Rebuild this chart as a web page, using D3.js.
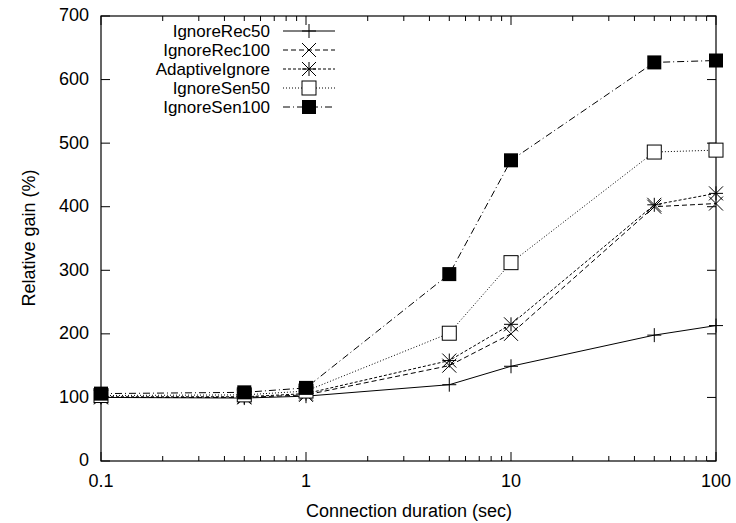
<!DOCTYPE html>
<html><head><meta charset="utf-8">
<script src="https://cdn.jsdelivr.net/npm/d3@7"></script>
<style>body{margin:0;background:#fff}svg{display:block}text{font-family:"Liberation Sans",Arial,sans-serif;fill:#000}</style>
</head><body><svg id="c" width="736" height="523"></svg>
<script>
const durations = [0.1, 0.5, 1, 5, 10, 50, 100];
const seriesNames = ["IgnoreRec50","IgnoreRec100","AdaptiveIgnore","IgnoreSen50","IgnoreSen100"];
const ignoreRec50   = [100, 99, 102, 120, 149, 198, 213];
const ignoreRec100  = [100, 100, 104, 150, 200, 400, 405];
const adaptiveIgnore= [101, 101, 106, 158, 215, 403, 421];
const ignoreSen50   = [103, 104, 110, 201, 312, 486, 489];
const ignoreSen100  = [106, 108, 115, 294, 473, 627, 630];
const yTicks = [0,100,200,300,400,500,600,700];
const xTicks = [0.1, 1, 10, 100];
const xLabel = "Connection duration (sec)";
const yLabel = "Relative gain (%)";

const values = [ignoreRec50, ignoreRec100, adaptiveIgnore, ignoreSen50, ignoreSen100];
const dashes = [null, "5,3", "3,2", "1,2", "7,3,1,3"];
const markers = ["plus","cross","star","square","filled"];

const svg = d3.select("#c");
const L=101,R=716,T=16,B=461;
const x = d3.scaleLog().domain([0.1,100]).range([L,R]);
const y = d3.scaleLinear().domain([0,700]).range([B,T]);

const g = svg.append("g");
const minor = [];
for (let d=0.1; d<100; d*=10) for (let k=2;k<=9;k++) minor.push(+(d*k).toPrecision(3));
g.selectAll(".mnb").data(minor).join("line").attr("x1",d=>x(d)).attr("x2",d=>x(d)).attr("y1",B).attr("y2",B-5).attr("stroke","#000");
g.selectAll(".mnt").data(minor).join("line").attr("x1",d=>x(d)).attr("x2",d=>x(d)).attr("y1",T).attr("y2",T+5).attr("stroke","#000");
g.selectAll(".mjb").data(xTicks).join("line").attr("x1",d=>x(d)).attr("x2",d=>x(d)).attr("y1",B).attr("y2",B-9).attr("stroke","#000");
g.selectAll(".mjt").data(xTicks).join("line").attr("x1",d=>x(d)).attr("x2",d=>x(d)).attr("y1",T).attr("y2",T+9).attr("stroke","#000");
g.selectAll(".yl").data(yTicks).join("line").attr("x1",L).attr("x2",L+9).attr("y1",d=>y(d)).attr("y2",d=>y(d)).attr("stroke","#000");
g.selectAll(".yr").data(yTicks).join("line").attr("x1",R).attr("x2",R-9).attr("y1",d=>y(d)).attr("y2",d=>y(d)).attr("stroke","#000");
g.selectAll(".ytx").data(yTicks).join("text").attr("x",89).attr("y",d=>y(d)).attr("dy","0.3em").attr("text-anchor","end").attr("font-size",18).text(d=>d);
g.selectAll(".xtx").data(xTicks).join("text").attr("x",d=>x(d)).attr("y",B+26).attr("text-anchor","middle").attr("font-size",18).text(d=>d);
svg.append("rect").attr("x",L).attr("y",T).attr("width",R-L).attr("height",B-T).attr("fill","none").attr("stroke","#000").attr("stroke-width",1.2);
svg.append("text").attr("x",409).attr("y",517).attr("text-anchor","middle").attr("font-size",18).text(xLabel);
svg.append("text").attr("transform",`translate(35,238) rotate(-90)`).attr("text-anchor","middle").attr("font-size",18).text(yLabel);

function drawMarker(sel, type){
  const s=7;
  if(type==="plus"||type==="star"){
    sel.append("path").attr("d",`M${-s},0H${s}M0,${-s}V${s}`).attr("stroke","#000").attr("fill","none");
  }
  if(type==="cross"||type==="star"){
    sel.append("path").attr("d",`M${-s},${-s}L${s},${s}M${-s},${s}L${s},${-s}`).attr("stroke","#000").attr("fill","none");
  }
  if(type==="square"){
    sel.append("rect").attr("x",-s).attr("y",-s).attr("width",2*s).attr("height",2*s).attr("fill","#fff").attr("stroke","#000");
  }
  if(type==="filled"){
    sel.append("rect").attr("x",-s).attr("y",-s).attr("width",2*s).attr("height",2*s).attr("fill","#000");
  }
}
const line = d3.line().x(d=>x(d[0])).y(d=>y(d[1]));
values.forEach((vals,i)=>{
  const pts = durations.map((d,j)=>[d,vals[j]]);
  svg.append("path").attr("d",line(pts)).attr("fill","none").attr("stroke","#000").attr("stroke-width",1).attr("stroke-dasharray",dashes[i]);
  pts.forEach(p=>{
    const m = svg.append("g").attr("transform",`translate(${x(p[0])},${y(p[1])})`);
    drawMarker(m, markers[i]);
  });
  const ly = 31 + i*19;
  svg.append("text").attr("x",270).attr("y",ly).attr("dy","0.35em").attr("text-anchor","end").attr("font-size",17).text(seriesNames[i]);
  svg.append("line").attr("x1",283).attr("x2",335).attr("y1",ly).attr("y2",ly).attr("stroke","#000").attr("stroke-dasharray",dashes[i]);
  drawMarker(svg.append("g").attr("transform",`translate(309,${ly})`), markers[i]);
});
</script></body></html>
